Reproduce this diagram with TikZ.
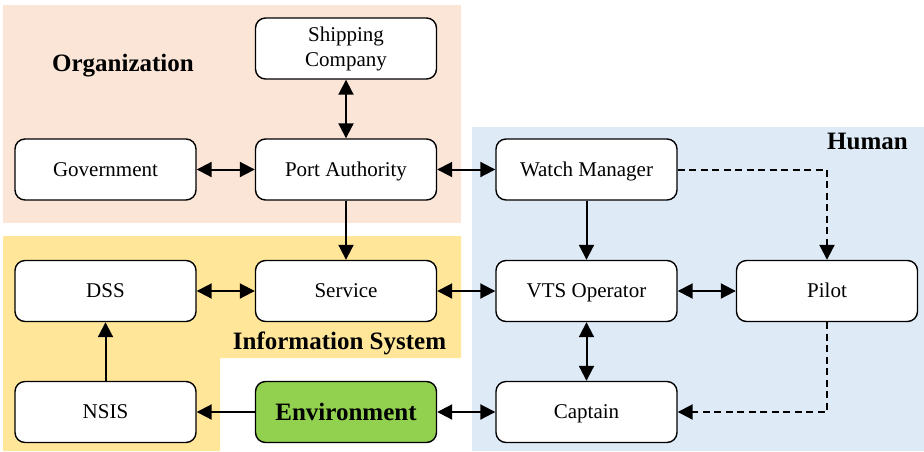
\documentclass[tikz,border=0pt]{standalone}
\usepackage{fontspec}
\setmainfont{Liberation Serif}
\usetikzlibrary{arrows.meta}
\definecolor{orgbg}{HTML}{FBE5D6}
\definecolor{infobg}{HTML}{FFE699}
\definecolor{humanbg}{HTML}{DEEBF7}
\definecolor{envgreen}{HTML}{92D050}
\begin{document}
\begin{tikzpicture}[x=1pt,y=-1pt,
  basebox/.style={draw, line width=1.4pt, rounded corners=10pt, fill=white,
    minimum width=181pt, minimum height=61pt, inner sep=0pt, align=center,
    font=\rmfamily\fontsize{21}{25}\selectfont},
  box/.style={basebox, text height=14pt, text depth=1pt},
  link/.style={line width=2pt, -{Triangle[length=15pt,width=15pt]}},
  bilink/.style={line width=2pt, {Triangle[length=15pt,width=15pt]}-{Triangle[length=15pt,width=15pt]}},
  dlink/.style={line width=2pt, -{Triangle[length=15pt,width=15pt]}, dash pattern=on 7pt off 4.5pt},
  grouplabel/.style={font=\rmfamily\fontsize{25}{30}\selectfont\bfseries, inner sep=0pt}]
\useasboundingbox (0,0) rectangle (924,451);

% group backgrounds
\fill[orgbg] (3,5) rectangle (461,223);
\fill[infobg] (3,236) -- (461,236) -- (461,358) -- (220,358) -- (220,451) -- (3,451) -- cycle;
\fill[humanbg] (472,127) rectangle (924,451);

% group titles
\node[grouplabel, anchor=base] (orgT) at (123,71) {Organization};
\node[grouplabel, anchor=base east] (humT) at (908,149) {Human};
\node[grouplabel, anchor=base] (infT) at (339.5,349) {Information System};

% boxes
\node[basebox] (ship) at (346,48.5) {Shipping\\Company};
\node[box] (gov)  at (105.5,169.5) {Government};
\node[box] (port) at (346,169.5) {Port Authority};
\node[box] (wm)   at (586.5,169.5) {Watch Manager};
\node[box] (dss)  at (105.5,291) {DSS};
\node[box] (serv) at (346,291) {Service};
\node[box] (vts)  at (586.5,291) {VTS Operator};
\node[box] (pilot) at (827,291) {Pilot};
\node[box] (nsis) at (105.5,412) {NSIS};
\node[box, fill=envgreen, text height=17pt, text depth=1pt,
  font=\rmfamily\fontsize{25}{30}\selectfont\bfseries] (env) at (346,412) {Environment};
\node[box] (capt) at (586.5,412) {Captain};

% connectors
\draw[bilink] (ship) -- (port);
\draw[bilink] (gov) -- (port);
\draw[bilink] (port) -- (wm);
\draw[link] (port) -- (serv);
\draw[bilink] (dss) -- (serv);
\draw[bilink] (serv) -- (vts);
\draw[link] (wm) -- (vts);
\draw[bilink] (vts) -- (pilot);
\draw[bilink] (vts) -- (capt);
\draw[bilink] (env) -- (capt);
\draw[link] (env) -- (nsis);
\draw[link] (nsis) -- (dss);
\draw[dlink] (wm.east) -| (pilot.north);
\draw[dlink] (pilot.south) |- (capt.east);
\end{tikzpicture}
\end{document}
